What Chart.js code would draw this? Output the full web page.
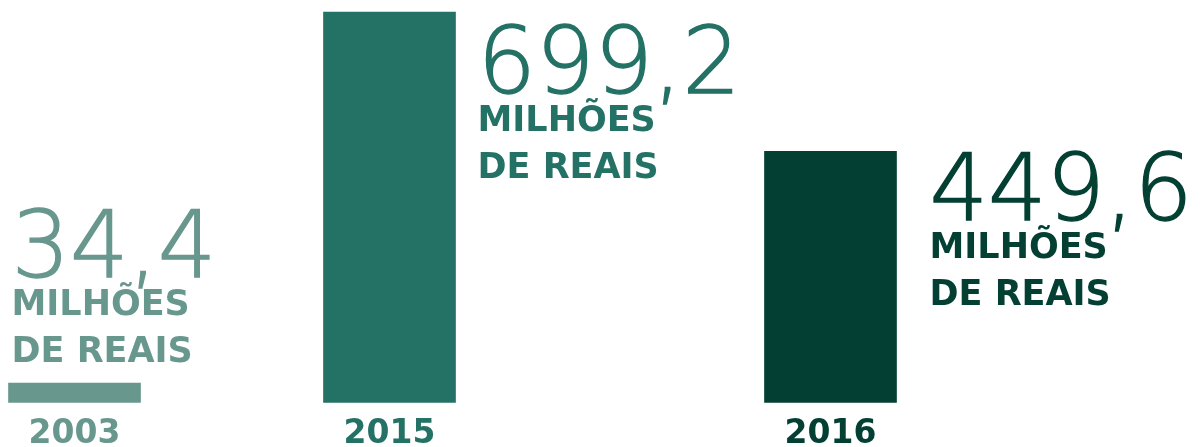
<!DOCTYPE html>
<html>
<head>
<meta charset="utf-8">
<script src="https://cdn.jsdelivr.net/npm/chart.js@4"></script>
<style>
  html, body { margin: 0; padding: 0; background: #fff; overflow: hidden; }
  #wrap { width: 1200px; height: 466px; position: relative; }
</style>
</head>
<body>
<div id="wrap"><canvas id="myChart"></canvas></div>
<script>
// data
const years = ['2003', '2015', '2016'];
const values = [34.4, 699.2, 449.6];
const valueLabels = ['34,4', '699,2', '449,6'];
const unitLines = ['MILHÕES', 'DE REAIS'];
const colors = ['#68978e', '#247165', '#034033'];
// empty slots between the bars (the original spacing is uneven)
const gaps = [4, 6];

// build the category axis with spacer slots
const labels = [], data = [], barColors = [], tickColors = [], barIndex = [];
years.forEach((y, i) => {
  labels.push(y); data.push(values[i]); barColors.push(colors[i]); tickColors.push(colors[i]); barIndex.push(i);
  if (i < gaps.length) {
    for (let g = 0; g < gaps[i]; g++) {
      labels.push(''); data.push(null); barColors.push('rgba(0,0,0,0)'); tickColors.push('rgba(0,0,0,0)'); barIndex.push(-1);
    }
  }
});

// where each value block sits relative to its bar (centre x, top y)
const labelPlace = [
  { dx: -63, dy: -106 },
  { dx: 88, dy: 81 },
  { dx: 99, dy: 69 }
];

const valueText = {
  id: 'valueText',
  afterDatasetsDraw(chart) {
    const ctx = chart.ctx;
    const meta = chart.getDatasetMeta(0);
    ctx.save();
    ctx.textAlign = 'left';
    ctx.textBaseline = 'alphabetic';
    meta.data.forEach((bar, idx) => {
      const i = barIndex[idx];
      if (i < 0) return;
      const p = labelPlace[i];
      const x = bar.x + p.dx;
      const y = bar.y + p.dy;
      ctx.fillStyle = colors[i];
      ctx.strokeStyle = colors[i];
      ctx.lineWidth = 1.3;
      ctx.font = '200 92px "DejaVu Sans"';
      ctx.fillText(valueLabels[i], x, y);
      ctx.strokeText(valueLabels[i], x, y);
      ctx.font = 'bold 35px "DejaVu Sans"';
      ctx.fillText(unitLines[0], x, y + 38);
      ctx.fillText(unitLines[1], x, y + 85);
    });
    ctx.restore();
  }
};

new Chart(document.getElementById('myChart').getContext('2d'), {
  type: 'bar',
  data: {
    labels: labels,
    datasets: [{
      data: data,
      backgroundColor: barColors,
      borderWidth: 0,
      barThickness: 132,
      clip: false
    }]
  },
  options: {
    responsive: true,
    maintainAspectRatio: false,
    animation: false,
    layout: { padding: { top: 12, left: 43, right: 338, bottom: 0 } },
    plugins: { legend: { display: false }, tooltip: { enabled: false } },
    scales: {
      x: {
        grid: { display: false, drawTicks: false },
        border: { display: false },
        ticks: {
          autoSkip: false,
          maxRotation: 0,
          padding: 12,
          color: (c) => tickColors[c.index],
          font: { family: 'DejaVu Sans', weight: 'bold', size: 33, lineHeight: 1.2 }
        }
      },
      y: {
        display: false,
        min: 0,
        max: 699.2
      }
    }
  },
  plugins: [valueText]
});
</script>
</body>
</html>
